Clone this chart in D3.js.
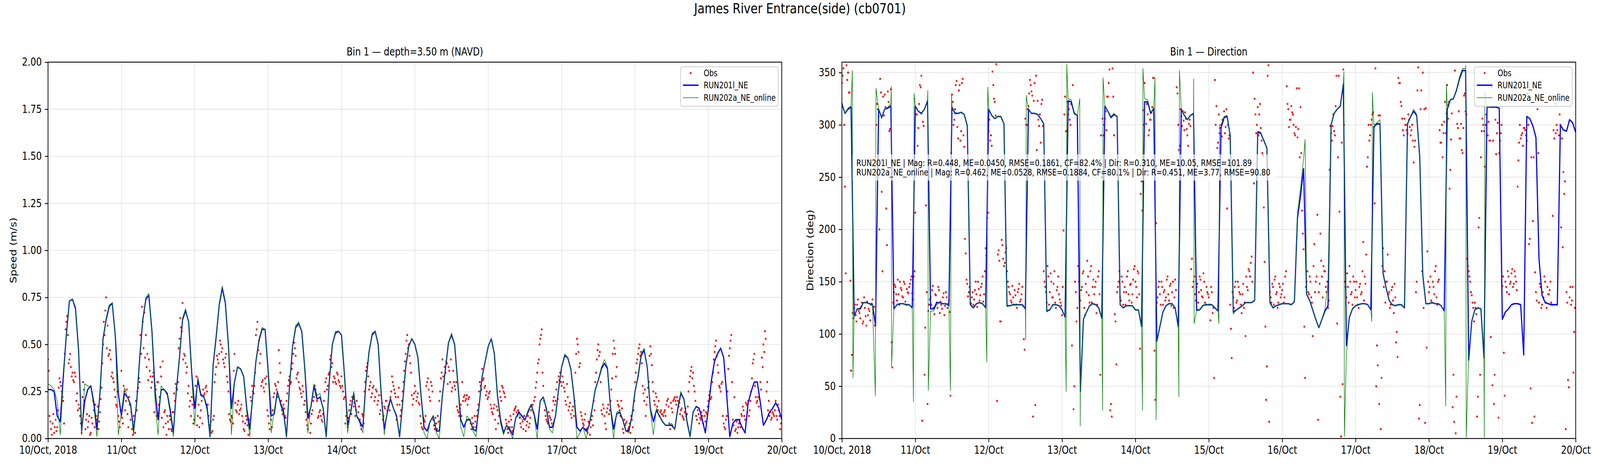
<!DOCTYPE html>
<html>
<head>
<meta charset="utf-8">
<script src="https://cdn.jsdelivr.net/npm/d3@7"></script>
<style>
  html, body { margin: 0; padding: 0; background: #fff; overflow: hidden; }
  svg { display: block; width: 100vw; height: 100vh; }
</style>
</head>
<body>
<svg id="chart" viewBox="0 0 5000 1200" preserveAspectRatio="none"></svg>
<script>
// ---- data ----
const START = Date.UTC(2018, 9, 10);   // 10/Oct/2018 00:00 UTC
const HOUR = 3600e3;

const figTitle = "James River Entrance(side) (cb0701)";
const panelTitles = ["Bin 1 \u2014 depth=3.50 m (NAVD)", "Bin 1 \u2014 Direction"];
const yLabels = ["Speed (m/s)", "Direction (deg)"];
const seriesNames = ["Obs", "RUN201l_NE", "RUN202a_NE_online"];
const speedTicks = [0, 0.25, 0.5, 0.75, 1.0, 1.25, 1.5, 1.75, 2.0];
const dirTicks = [0, 50, 100, 150, 200, 250, 300, 350];
const statLines = [
  "RUN201l_NE | Mag: R=0.448, ME=0.0450, RMSE=0.1861, CF=82.4% | Dir: R=0.310, ME=10.05, RMSE=101.89",
  "RUN202a_NE_online | Mag: R=0.462, ME=0.0528, RMSE=0.1884, CF=80.1% | Dir: R=0.451, ME=3.77, RMSE=90.80"
];

// observed speed, every 30 min from 10/Oct 00:00
const speedObs = [
  .42,.12,.05,.08,.03,.10,.06,.27,.30,.25,.20,.45,.62,.55,.42,.38,.35,.30,.33,.24,.18,.12,.03,.30,.20,.10,.06,.12,.03,.08,.15,.18,.10,.05,.14,.27,.50,.55,.75,.60,.45,.42,.35,.30,.22,.17,.12,.06,
  .36,.08,.25,.20,.13,.22,.10,.05,.12,.03,.15,.27,.30,.45,.62,.67,.55,.45,.42,.33,.30,.35,.28,.12,.30,.22,.33,.41,.14,.08,.12,.05,.10,.04,.14,.20,.27,.30,.53,.59,.72,.45,.40,.38,.28,.20,.22,.08,
  .17,.33,.12,.06,.15,.08,.23,.27,.25,.12,.05,.03,.10,.30,.38,.42,.45,.50,.48,.40,.43,.33,.25,.10,.12,.08,.45,.15,.18,.13,.16,.12,.05,.08,.10,.02,.06,.20,.25,.28,.55,.62,.52,.45,.30,.27,.32,.33,
  .12,.05,.10,.15,.24,.28,.22,.47,.35,.15,.18,.12,.20,.28,.33,.30,.40,.51,.44,.34,.30,.26,.22,.25,.20,.10,.05,.12,.08,.15,.22,.26,.20,.12,.15,.10,.13,.25,.32,.28,.35,.44,.40,.33,.30,.35,.31,.28,
  .33,.25,.22,.12,.06,.15,.20,.22,.17,.12,.20,.14,.10,.05,.12,.25,.36,.40,.26,.30,.24,.28,.22,.25,.20,.13,.23,.10,.17,.20,.15,.18,.22,.33,.28,.24,.10,.22,.18,.15,.25,.36,.45,.55,.50,.40,.23,.21,
  .28,.20,.24,.18,.08,.05,.10,.12,.30,.26,.20,.28,.10,.05,.08,.12,.20,.32,.42,.30,.35,.40,.38,.30,.25,.36,.28,.30,.15,.12,.18,.30,.22,.20,.23,.21,.10,.05,.08,.12,.06,.15,.25,.28,.37,.32,.28,.25,
  .22,.25,.16,.13,.18,.05,.15,.12,.22,.28,.25,.22,.08,.03,.06,.10,.04,.15,.17,.12,.14,.08,.12,.05,.10,.07,.12,.08,.15,.18,.20,.27,.35,.42,.53,.58,.28,.15,.10,.08,.12,.10,.15,.22,.20,.30,.33,.35,
  .28,.30,.25,.18,.22,.17,.13,.15,.12,.35,.53,.46,.40,.12,.08,.10,.05,.03,.08,.06,.12,.20,.30,.42,.50,.46,.15,.18,.12,.05,.16,.13,.20,.32,.52,.45,.38,.18,.15,.20,.05,.10,.08,.04,.06,.03,.10,.15,
  .30,.40,.45,.50,.46,.28,.20,.12,.22,.30,.49,.39,.25,.18,.22,.15,.12,.15,.13,.14,.12,.20,.17,.05,.16,.20,.22,.18,.20,.19,.15,.12,.10,.16,.13,.25,.33,.38,.35,.25,.12,.15,.08,.10,.12,.15,.09,.13,
  .20,.25,.22,.35,.46,.52,.39,.28,.25,.30,.08,.05,.12,.37,.48,.55,.10,.22,.05,.03,.08,.06,.12,.15,.10,.18,.20,.15,.25,.40,.45,.22,.20,.17,.30,.43,.50,.57,.25,.15,.12,.10,.14,.12,.20,.10,.15,.05
];
// observed speed, the in-between samples (every 30 min from 10/Oct 00:15)
const speedObsMid = [
  .36,.09,.02,.13,.06,.04,.15,.32,.28,.22,.08,.58,.65,.40,.45,.33,.31,.35,.20,.15,.16,.08,.22,.26,.05,.13,.09,.02,.11,.20,.06,.12,.17,.09,.21,.40,.62,.68,.48,.44,.47,.33,.32,.26,.18,.25,.09,.15,
  .11,.28,.15,.26,.06,.18,.14,.02,.09,.20,.25,.32,.55,.70,.48,.43,.38,.31,.36,.27,.33,.14,.26,.30,.18,.38,.11,.06,.15,.02,.09,.12,.05,.14,.24,.29,.26,.48,.64,.57,.42,.44,.35,.24,.17,.12,.18,.10,
  .28,.07,.18,.11,.20,.26,.24,.28,.18,.07,.09,.04,.12,.34,.44,.40,.52,.46,.42,.38,.45,.30,.13,.09,.11,.36,.19,.14,.20,.15,.18,.09,.04,.12,.07,.10,.22,.28,.24,.35,.58,.47,.40,.28,.31,.25,.29,.15,
  .08,.14,.06,.22,.29,.26,.30,.40,.20,.13,.16,.11,.24,.31,.29,.37,.45,.48,.32,.35,.27,.24,.28,.18,.14,.07,.11,.03,.13,.20,.28,.23,.11,.14,.12,.09,.20,.30,.26,.34,.42,.38,.30,.32,.29,.34,.30,.27,
  .28,.21,.08,.14,.11,.18,.13,.21,.19,.15,.11,.17,.07,.13,.08,.30,.38,.33,.28,.22,.27,.20,.26,.18,.23,.15,.19,.12,.16,.20,.17,.15,.25,.30,.26,.22,.18,.27,.12,.20,.30,.41,.52,.48,.44,.35,.18,.24,
  .25,.22,.19,.12,.06,.11,.09,.28,.32,.22,.30,.25,.07,.11,.05,.09,.25,.35,.33,.38,.41,.29,.36,.42,.27,.30,.26,.17,.14,.16,.12,.20,.23,.21,.18,.22,.08,.11,.06,.09,.12,.18,.30,.26,.31,.27,.23,.21,
  .24,.18,.14,.16,.10,.17,.08,.25,.20,.27,.24,.10,.05,.09,.12,.06,.13,.16,.14,.15,.11,.06,.09,.12,.04,.09,.06,.11,.17,.14,.22,.30,.40,.50,.55,.35,.20,.12,.09,.14,.11,.08,.20,.18,.26,.21,.31,.30,
  .33,.27,.20,.29,.15,.19,.11,.17,.20,.45,.50,.38,.14,.10,.07,.13,.04,.09,.02,.10,.07,.15,.35,.47,.44,.30,.13,.16,.08,.14,.18,.15,.26,.45,.48,.33,.20,.17,.12,.16,.03,.07,.09,.05,.08,.12,.06,.20,
  .35,.42,.48,.44,.40,.24,.26,.18,.27,.44,.45,.30,.20,.24,.17,.20,.14,.13,.12,.15,.18,.21,.08,.19,.14,.21,.20,.22,.17,.13,.16,.11,.14,.12,.17,.30,.36,.32,.28,.20,.10,.13,.11,.14,.08,.12,.14,.17,
  .23,.21,.30,.42,.49,.44,.35,.27,.29,.12,.06,.10,.25,.44,.52,.30,.07,.04,.09,.06,.10,.13,.17,.12,.19,.14,.12,.20,.32,.42,.28,.19,.22,.21,.26,.38,.46,.53,.30,.20,.14,.11,.13,.15,.12,.18,.12,.08
];

// RUN201l_NE speed, hourly from 10/Oct 00:00
const speedRun201 = [
  0.26,0.26,0.25,0.12,0.09,0.33,0.55,0.73,0.74,0.69, 0.47,0.04,0.20,0.26,0.28,0.19,0.05,0.24,0.53,0.63,
  0.70,0.72,0.55,0.24,0.12,0.24,0.22,0.18,0.04,0.19, 0.43,0.63,0.74,0.76,0.57,0.26,0.10,0.26,0.26,0.24,
  0.15,0.03,0.26,0.43,0.63,0.68,0.62,0.35,0.16,0.31, 0.23,0.22,0.17,0.01,0.39,0.54,0.71,0.80,0.72,0.50,
  0.16,0.30,0.38,0.37,0.33,0.16,0.05,0.23,0.41,0.52, 0.58,0.58,0.36,0.12,0.13,0.25,0.19,0.15,0.01,0.28,
  0.49,0.59,0.61,0.57,0.37,0.11,0.17,0.28,0.21,0.22, 0.16,0.01,0.30,0.50,0.56,0.57,0.55,0.33,0.07,0.14,
  0.24,0.12,0.09,0.06,0.30,0.46,0.55,0.57,0.50,0.23, 0.05,0.14,0.21,0.16,0.12,0.01,0.19,0.38,0.49,0.53,
  0.50,0.43,0.23,0.06,0.04,0.09,0.12,0.04,0.04,0.23, 0.37,0.51,0.55,0.50,0.30,0.10,0.06,0.10,0.10,0.05,
  0.04,0.17,0.33,0.41,0.49,0.53,0.45,0.23,0.10,0.03, 0.07,0.05,0.02,0.11,0.14,0.12,0.10,0.14,0.18,0.13,
  0.05,0.20,0.22,0.16,0.06,0.06,0.12,0.26,0.38,0.44, 0.43,0.37,0.23,0.06,0.04,0.06,0.04,0.07,0.16,0.26,
  0.31,0.37,0.40,0.37,0.16,0.05,0.13,0.14,0.10,0.04, 0.04,0.12,0.25,0.33,0.44,0.47,0.38,0.16,0.09,0.15,
  0.12,0.09,0.07,0.07,0.07,0.05,0.16,0.24,0.21,0.09, 0.01,0.14,0.17,0.16,0.10,0.03,0.16,0.31,0.41,0.45,
  0.48,0.43,0.23,0.01,0.08,0.10,0.10,0.06,0.03,0.19, 0.25,0.30,0.30,0.19,0.07,0.10,0.14,0.16,0.19,0.16,
  0.10
];

// RUN202a_NE_online speed, hourly from 10/Oct 00:00 (ends early)
const speedRun202 = [
  0.29,0.28,0.26,0.20,0.02,0.30,0.55,0.73,0.74,0.70, 0.47,0.02,0.29,0.28,0.27,0.17,0.01,0.24,0.53,0.64,
  0.71,0.72,0.55,0.02,0.14,0.27,0.22,0.17,0.02,0.19, 0.43,0.63,0.75,0.77,0.57,0.20,0.02,0.28,0.26,0.23,
  0.13,0.01,0.26,0.43,0.64,0.69,0.62,0.33,0.07,0.33, 0.24,0.22,0.15,0.01,0.40,0.55,0.72,0.81,0.73,0.50,
  0.02,0.30,0.38,0.37,0.33,0.14,0.01,0.23,0.41,0.53, 0.59,0.58,0.35,0.03,0.15,0.25,0.18,0.13,0.01,0.28,
  0.49,0.60,0.62,0.57,0.36,0.03,0.18,0.29,0.23,0.24, 0.15,0.01,0.30,0.50,0.57,0.57,0.55,0.32,0.03,0.15,
  0.25,0.12,0.08,0.03,0.30,0.46,0.56,0.57,0.50,0.22, 0.02,0.15,0.22,0.16,0.11,0.01,0.19,0.39,0.49,0.53,
  0.50,0.43,0.22,0.03,0.00,0.09,0.12,0.03,0.00,0.23, 0.37,0.51,0.56,0.50,0.29,0.06,0.01,0.12,0.10,0.04,
  0.01,0.17,0.33,0.41,0.49,0.53,0.45,0.22,0.08,0.02, 0.07,0.04,0.00,0.11,0.13,0.10,0.10,0.15,0.18,0.12,
  0.00,0.20,0.22,0.15,0.05,0.03,0.12,0.26,0.38,0.45, 0.43,0.37,0.22,0.00,0.03,0.06,0.00,0.07,0.16,0.26,
  0.31,0.38,0.42,0.38,0.15,0.00,0.14,0.15,0.10,0.04, 0.03,0.12,0.25,0.34,0.45,0.48,0.38,0.15,0.02,0.16,
  0.12,0.09,0.07,0.07,0.08,0.05,0.17,0.25,0.21,0.08, 0.01,0.14,0.17
];

// observed direction (deg), every 30 min from 10/Oct 00:00
const dirObs = [
  340,354,241,357,350,331,65,120,125,118,128,122,115,130,112,125,108,118,122,128,133,126,270,320,308,344,236,327,329,220,332,294,334,68,140,145,132,138,150,142,135,148,128,140,145,152,139,155,
  216,310,297,338,347,303,61,223,33,128,135,142,125,138,130,145,120,128,135,118,140,125,132,41,329,300,315,342,287,338,294,344,279,177,148,140,130,135,128,142,138,150,132,145,155,138,182,211,
  294,285,280,338,322,358,176,170,112,185,165,178,160,145,138,130,135,142,128,140,148,133,145,95,306,300,318,343,332,21,340,347,323,299,283,324,160,145,130,155,140,150,135,160,125,145,138,130,
  118,199,327,294,310,305,320,338,50,140,125,150,132,145,160,118,140,155,130,165,145,138,150,128,160,61,250,290,306,295,327,353,33,354,290,112,140,150,135,155,128,145,140,160,132,148,138,162,
  150,135,158,86,246,314,340,301,310,295,305,317,345,37,130,145,138,150,128,142,135,155,132,148,140,125,152,336,300,280,308,313,295,306,290,301,299,172,150,138,145,130,155,142,135,150,128,140,
  135,113,140,125,343,318,283,292,300,305,313,298,220,287,128,77,135,145,130,150,140,128,138,125,98,145,162,155,174,350,325,292,317,310,297,273,221,107,69,357,140,130,145,152,138,125,148,135,
  142,130,155,337,315,305,318,310,292,298,288,335,317,218,181,58,150,140,155,135,98,186,150,214,140,196,155,165,160,140,125,257,292,299,294,318,110,347,40,283,353,150,135,145,165,138,128,150,
  142,135,125,148,140,188,155,176,269,285,300,310,298,354,89,309,309,58,182,160,150,176,140,128,145,120,135,102,345,340,318,295,306,300,292,305,290,300,264,285,150,355,32,333,350,315,316,179,
  140,155,130,145,160,135,150,295,283,269,303,292,338,322,257,311,61,352,40,297,287,301,273,328,313,172,160,150,137,125,130,119,40,211,269,306,294,300,290,303,285,336,285,61,272,302,273,292,
  146,82,150,140,155,148,158,145,160,150,241,283,287,292,297,295,285,300,191,269,208,21,140,315,130,145,128,135,150,125,138,142,130,213,287,292,295,290,300,287,255,246,140,56,135,128,145,102
];
// observed direction, the in-between samples (every 30 min from 10/Oct 00:15)
const dirObsMid = [
  347,300,158,343,331,151,80,115,128,112,133,120,126,110,135,117,131,124,113,129,120,108,300,315,200,331,160,309,317,185,322,296,92,130,147,138,152,128,144,136,150,131,143,139,148,155,133,160,
  310,280,320,336,17,299,106,140,122,133,128,146,119,137,125,142,131,124,139,127,135,129,121,273,322,305,338,298,333,285,340,290,191,152,136,145,129,140,133,150,126,143,137,148,131,160,175,216,
  305,290,351,325,309,36,180,112,190,172,168,182,150,140,132,146,128,137,125,143,131,138,127,85,300,315,330,338,328,323,32,276,305,310,320,299,150,140,165,128,158,135,148,130,142,155,133,127,
  145,310,294,322,315,300,89,28,150,112,165,135,142,158,125,148,170,137,160,130,152,145,120,155,138,290,306,300,313,327,340,27,21,327,119,71,145,160,132,150,140,128,155,138,147,130,152,165,
  145,160,138,234,218,300,265,320,290,305,312,345,84,206,135,150,128,145,140,132,152,138,146,127,150,135,142,330,276,315,299,304,312,296,280,305,162,145,155,132,148,140,152,136,158,130,145,138,
  128,145,120,58,300,278,310,297,289,304,292,315,300,290,105,140,125,150,132,145,138,120,148,130,155,142,160,168,150,244,310,300,290,320,285,271,169,37,347,16,135,148,128,155,140,130,145,138,
  148,135,160,320,298,305,312,300,290,335,296,269,273,196,107,145,160,138,150,130,165,140,155,18,148,170,135,160,145,150,132,299,285,310,290,347,269,217,2,52,300,145,158,130,150,140,155,135,
  150,128,145,138,160,132,148,260,300,290,305,312,225,50,70,33,9,165,145,130,150,138,125,142,132,148,92,78,340,322,306,290,300,295,310,298,295,285,279,140,333,19,315,160,125,15,87,150,
  145,132,150,138,165,128,152,283,300,292,322,311,306,239,286,30,16,5,301,313,287,276,297,330,310,165,155,140,130,112,125,21,202,61,294,300,260,310,290,285,97,51,33,305,292,20,285,300,
  155,41,145,160,138,150,162,148,155,142,266,300,290,280,297,290,330,186,48,15,269,159,132,273,148,125,140,155,130,145,138,150,128,295,320,300,330,310,202,183,234,9,130,49,145,132,63,125
];

// RUN201l_NE direction, hourly from 10/Oct 00:00
const dirRun201 = [
  320,311,315,317,117,124,124,130,130,129, 128,108,315,307,315,316,318,124,128,129,
  129,128,128,125,318,313,311,315,323,124, 124,130,130,129,129,127,317,311,311,312,
  310,299,128,125,129,130,129,125,315,309, 306,308,308,301,127,127,128,128,128,128,
  124,315,311,311,310,306,301,122,123,128, 128,127,123,116,323,322,311,309,45,114,
  121,127,129,128,125,115,318,313,307,310, 308,128,125,127,127,127,123,123,107,322,
  322,311,316,93,107,121,127,129,129,125, 107,315,309,305,309,311,123,123,127,128,
  128,128,125,122,297,307,308,290,121,123, 125,127,130,130,130,132,293,292,285,278,
  130,125,127,128,129,129,129,128,131,211, 232,258,138,132,123,114,106,114,122,127,
  300,311,315,318,339,89,116,124,127,128, 129,129,128,123,298,301,301,158,144,132,
  128,127,128,128,125,301,308,313,309,269, 156,129,129,130,129,129,127,122,315,324,
  325,333,344,352,352,75,112,123,125,124, 77,317,317,317,317,316,114,121,124,128,
  129,129,128,80,308,306,299,288,172,137, 130,129,128,128,128,300,295,294,305,302,
  293
];

// RUN202a_NE_online direction, [hour from 10/Oct 00:00, deg]
const dirRun202 = [
  [0,322],[1,311],[2,316],[3,318],[3.4,352],[3.6,58],[4,117],[5,124],[6,125],[7,130],[8,130],[9,129],[10,128],
  [10.95,41],[11.15,335],[12,315],[13,306],[14,315],[15,317],[16,320],[16.15,337],[16.25,69],[17,124],[18,128],
  [19,129],[20,129],[21,128],[22,128],[23,125],[23.4,35],[23.6,330],[24,318],[25,313],[26,310],[27,315],[28,324],
  [28.1,333],[28.25,46],[29,122],[30,122],[31,128],[32,130],[33,129],[34,129],[35,127],[35.5,46],[35.85,329],
  [36,317],[37,312],[38,311],[39,312],[40,310],[41,298],[42,128],[43,126],[44,129],[45,130],[46,129],[47,125],
  [47.4,73],[47.7,336],[48,315],[49,309],[50,306],[51,308],[52,308],[53,301],[54,126],[55,127],[56,128],[57,128],
  [58,128],[59,128],[60,124],[60.1,95],[60.3,328],[61,315],[62,311],[63,311],[64,310],[65,306],[66,301],[67,121],
  [68,123],[69,128],[70,128],[71,127],[72,123],[73,116],[73.35,45],[73.55,358],[74,325],[75,324],[76,312],[77,309],
  [77.8,325],[77.95,12],[78,45],[79,114],[80,121],[81,127],[82,129],[83,128],[84,125],[85,115],[85.25,27],[85.4,345],
  [86,318],[87,313],[88,308],[89,311],[90,308],[91,128],[92,125],[93,127],[94,127],[95,127],[96,123],[97,123],
  [98,107],[98.3,27],[98.45,354],[99,325],[100,324],[101,312],[102,316],[102.4,345],[102.75,18],[103,93],[104,107],
  [105,121],[106,127],[107,129],[108,129],[109,125],[110,107],[110.2,40],[110.4,352],[111,315],[112,309],[113,305],
  [114,309],[115,311],[115.05,344],[115.2,110],[116,122],[117,123],[118,127],[119,128],[120,128],[121,128],[122,125],
  [123,122],[123.3,110],[123.5,300],[124,300],[125,308],[126,309],[127,290],[128,119],[129,123],[130,125],[131,127],
  [132,130],[133,130],[134,130],[135,132],[136,294],[137,293],[138,285],[139,278],[140,129],[141,125],[142,127],
  [143,128],[144,129],[145,129],[146,129],[147,128],[148,131],[149,215],[150,240],[151,268],[151.5,286],[152,138],
  [153,132],[154,123],[155,114],[156,106],[157,114],[158,124],[159,150],[160,300],[161,311],[162,315],[163,318],
  [164,339],[164.2,351],[164.35,2],[165,80],[166,116],[167,124],[168,127],[169,128],[170,129],[171,129],[172,128],
  [173,123],[173.3,112],[173.5,331],[174,300],[175,302],[176,305],[177,158],[178,144],[179,132],[180,128],[181,127],
  [182,128],[183,128],[184,125],[185,301],[186,308],[187,315],[188,310],[189,269],[190,156],[191,129],[192,129],
  [193,130],[194,129],[195,129],[196,127],[197,122],[197.5,31],[197.7,339],[198,318],[199,324],[200,325],[201,334],
  [202,346],[203,354],[204,354],[204.05,357],[204.2,1],[205,80],[206,112],[207,123],[208,125],[209,124],[210,77],
  [210.1,1],[210.3,331],[211,317],[212,317]
];

// ---- layout ----
const PT = 200 / 72;              // figure was drawn at 200 dpi
const FONT = "DejaVu Sans";
const TICK_FS = 10 * PT;
const SMALL_FS = 8 * PT;
const TICK_LEN = 3.5 * PT;
const TICK_PAD = 3.5 * PT;
const SPINE_W = 0.8 * PT;

const TOP = 159, BOTTOM = 1122;
const PANELS = [
  { x0: 150, x1: 2443 },
  { x0: 2631, x1: 4924 }
];

const COLORS = { obs: "red", run201: "blue", run202: "green", grid: "#b0b0b0" };

const svg = d3.select("#chart");
svg.append("rect").attr("width", 5000).attr("height", 1200).attr("fill", "#fff");

svg.append("text")
  .text(figTitle)
  .attr("x", 2500).attr("y", 34)
  .attr("text-anchor", "middle")
  .attr("font-family", FONT).attr("font-size", 36)
  .attr("fill", "#000");

const dayTicks = d3.range(11).map(d => new Date(START + d * 24 * HOUR));
const fmtDay = d3.utcFormat("%d/%b");

function byIndex(vals, step, offset = 0) {
  return vals.map((v, i) => ({ t: new Date(START + offset + i * step), v }));
}
function byHour(pairs) {
  return pairs.map(([h, v]) => ({ t: new Date(START + h * HOUR), v }));
}

drawPanel(0, {
  yDomain: [0, 2], yTicks: speedTicks, yFmt: d3.format(".2f"),
  obs: byIndex(speedObs, HOUR / 2).concat(byIndex(speedObsMid, HOUR / 2, HOUR / 4)),
  run201: byIndex(speedRun201, HOUR),
  run202: byIndex(speedRun202, HOUR)
});
drawPanel(1, {
  yDomain: [0, 360], yTicks: dirTicks, yFmt: d3.format("d"),
  obs: byIndex(dirObs, HOUR / 2).concat(byIndex(dirObsMid, HOUR / 2, HOUR / 4)),
  run201: byIndex(dirRun201, HOUR),
  run202: byHour(dirRun202)
});
drawStats(PANELS[1]);

function drawPanel(idx, cfg) {
  const p = PANELS[idx];
  const x = d3.scaleUtc().domain([dayTicks[0], dayTicks[10]]).range([p.x0, p.x1]);
  const y = d3.scaleLinear().domain(cfg.yDomain).range([BOTTOM, TOP]);
  const g = svg.append("g");

  // grid
  g.append("g").selectAll("line").data(dayTicks).join("line")
    .attr("x1", d => x(d)).attr("x2", d => x(d))
    .attr("y1", TOP).attr("y2", BOTTOM)
    .attr("stroke", COLORS.grid).attr("stroke-opacity", 0.3).attr("stroke-width", SPINE_W);
  g.append("g").selectAll("line").data(cfg.yTicks).join("line")
    .attr("x1", p.x0).attr("x2", p.x1)
    .attr("y1", d => y(d)).attr("y2", d => y(d))
    .attr("stroke", COLORS.grid).attr("stroke-opacity", 0.3).attr("stroke-width", SPINE_W);

  const clipId = "clip" + idx;
  svg.append("clipPath").attr("id", clipId)
    .append("rect").attr("x", p.x0).attr("y", TOP)
    .attr("width", p.x1 - p.x0).attr("height", BOTTOM - TOP);

  const data = g.append("g").attr("clip-path", `url(#${clipId})`);

  data.append("g").selectAll("circle").data(cfg.obs).join("circle")
    .attr("cx", d => x(d.t)).attr("cy", d => y(d.v))
    .attr("r", 2.7).attr("fill", COLORS.obs);

  const line = d3.line().x(d => x(d.t)).y(d => y(d.v));
  data.append("path").datum(cfg.run201)
    .attr("d", line).attr("fill", "none")
    .attr("stroke", COLORS.run201).attr("stroke-width", 3.6)
    .attr("stroke-linejoin", "round");
  data.append("path").datum(cfg.run202)
    .attr("d", line).attr("fill", "none")
    .attr("stroke", COLORS.run202).attr("stroke-width", 1.7)
    .attr("stroke-linejoin", "round");

  // axes
  const xAxis = g.append("g").attr("transform", `translate(0,${BOTTOM})`)
    .call(d3.axisBottom(x).tickValues(dayTicks)
      .tickFormat((d, i) => i === 0 ? fmtDay(d) + ", 2018" : fmtDay(d))
      .tickSize(TICK_LEN).tickPadding(TICK_PAD));
  const yAxis = g.append("g").attr("transform", `translate(${p.x0},0)`)
    .call(d3.axisLeft(y).tickValues(cfg.yTicks).tickFormat(cfg.yFmt)
      .tickSize(TICK_LEN).tickPadding(TICK_PAD));
  [xAxis, yAxis].forEach(a => {
    a.select(".domain").remove();
    a.selectAll(".tick line").attr("stroke", "#000").attr("stroke-width", SPINE_W);
    a.selectAll(".tick text").attr("font-family", FONT).attr("font-size", TICK_FS).attr("fill", "#000");
  });

  // spines
  g.append("rect")
    .attr("x", p.x0).attr("y", TOP)
    .attr("width", p.x1 - p.x0).attr("height", BOTTOM - TOP)
    .attr("fill", "none").attr("stroke", "#000").attr("stroke-width", SPINE_W);

  // titles
  g.append("text").text(panelTitles[idx])
    .attr("x", (p.x0 + p.x1) / 2).attr("y", TOP - 17)
    .attr("text-anchor", "middle")
    .attr("font-family", FONT).attr("font-size", TICK_FS);
  const labelX = idx === 0 ? p.x0 - 99 : p.x0 - 90;
  g.append("text").text(yLabels[idx])
    .attr("transform", `translate(${labelX},${(TOP + BOTTOM) / 2}) rotate(-90)`)
    .attr("text-anchor", "middle")
    .attr("font-family", FONT).attr("font-size", TICK_FS);

  drawLegend(g, p);
}

function drawLegend(g, p) {
  const bx = p.x1 - 316, by = TOP + 12, bw = 305, bh = 101;
  const lg = g.append("g");
  lg.append("rect")
    .attr("x", bx).attr("y", by).attr("width", bw).attr("height", bh)
    .attr("rx", 6).attr("fill", "#fff").attr("fill-opacity", 0.8)
    .attr("stroke", "#cccccc").attr("stroke-width", SPINE_W);
  const rows = [by + 16, by + 47, by + 79];
  const hx0 = bx + 7, hx1 = bx + 56;
  lg.append("circle").attr("cx", (hx0 + hx1) / 2).attr("cy", rows[0])
    .attr("r", 2.7).attr("fill", COLORS.obs);
  lg.append("line").attr("x1", hx0).attr("x2", hx1).attr("y1", rows[1]).attr("y2", rows[1])
    .attr("stroke", COLORS.run201).attr("stroke-width", 3.6);
  lg.append("line").attr("x1", hx0).attr("x2", hx1).attr("y1", rows[2]).attr("y2", rows[2])
    .attr("stroke", COLORS.run202).attr("stroke-width", 1.7);
  seriesNames.forEach((name, i) => {
    lg.append("text").text(name)
      .attr("x", bx + 72).attr("y", rows[i] + 8)
      .attr("font-family", FONT).attr("font-size", SMALL_FS);
  });
}

function drawStats(p) {
  const sg = svg.append("g");
  sg.append("rect")
    .attr("x", p.x0 + 33).attr("y", 395).attr("width", 1320).attr("height", 67)
    .attr("fill", "#fff").attr("fill-opacity", 0.65);
  statLines.forEach((s, i) => {
    sg.append("text").text(s)
      .attr("x", p.x0 + 45).attr("y", 425 + i * 24)
      .attr("font-family", FONT).attr("font-size", SMALL_FS);
  });
}
</script>
</body>
</html>
